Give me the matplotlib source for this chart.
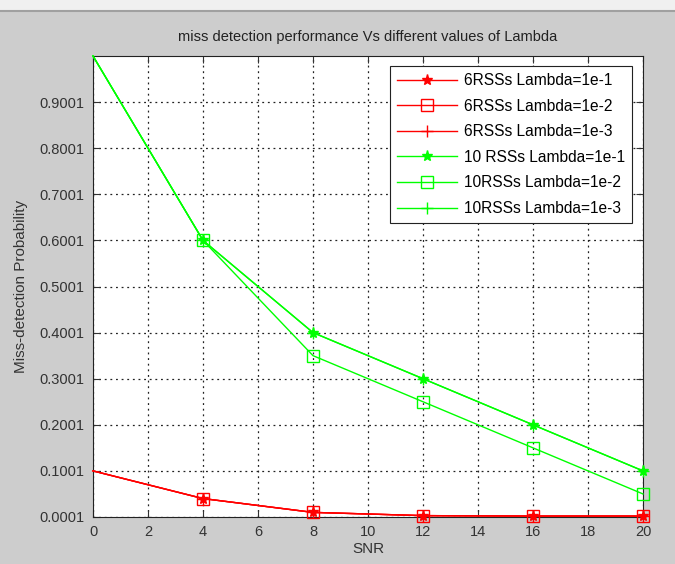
import matplotlib
matplotlib.use("Agg")
import matplotlib.pyplot as plt
from matplotlib.patches import Rectangle
import numpy as np

snr = [0, 4, 8, 12, 16, 20]
rss6_l1 = [0.1001, 0.0401, 0.0101, 0.0031, 0.0021, 0.0021]
rss6_l2 = [0.1001, 0.0401, 0.0101, 0.0031, 0.0021, 0.0021]
rss6_l3 = [0.1001, 0.0401, 0.0101, 0.0031, 0.0021, 0.0021]
rss10_l1 = [1.0001, 0.6001, 0.4001, 0.3001, 0.2001, 0.1001]
rss10_l2 = [1.0001, 0.6001, 0.3501, 0.2501, 0.1501, 0.0501]
rss10_l3 = [1.0001, 0.6001, 0.4001, 0.3001, 0.2001, 0.1001]
labels = ["6RSSs Lambda=1e-1", "6RSSs Lambda=1e-2", "6RSSs Lambda=1e-3",
          "10 RSSs Lambda=1e-1", "10RSSs Lambda=1e-2", "10RSSs Lambda=1e-3"]
xticks = list(range(0, 21, 2))
yticks = [0.0001, 0.1001, 0.2001, 0.3001, 0.4001, 0.5001, 0.6001, 0.7001, 0.8001, 0.9001]
ytick_labels = ["0.0001", "0.1001", "0.2001", "0.3001", "0.4001", "0.5001",
                "0.6001", "0.7001", "0.8001", "0.9001"]

plt.rcParams['font.family'] = ['Liberation Sans', 'DejaVu Sans']

fig = plt.figure(figsize=(6.75, 5.64), dpi=100, facecolor='#cdcdcd')
# top window strip
fig.patches.append(Rectangle((0, 1-10/564), 1, 10/564, transform=fig.transFigure,
                             facecolor='#f0f0f0', edgecolor='none', zorder=0))
fig.lines.append(plt.Line2D([0, 1], [1-11/564, 1-11/564], transform=fig.transFigure,
                            color='#a0a0a0', linewidth=1.5))

ax = fig.add_axes([93/675, 1-517/564, (643-93)/675, (517-56)/564])
ax.set_facecolor('white')

red = '#ff0000'
green = '#00ff00'
series = [
    (rss6_l1, red, '*'),
    (rss6_l2, red, 's'),
    (rss6_l3, red, '+'),
    (rss10_l1, green, '*'),
    (rss10_l2, green, 's'),
    (rss10_l3, green, '+'),
]
for (vals, col, mk), lab in zip(series, labels):
    ax.plot(snr, vals, color=col, marker=mk, markersize=8,
            markerfacecolor='none' if mk == 's' else col, markeredgewidth=1.0,
            markevery=slice(1, None),
            linewidth=1.0, label=lab, clip_on=False, zorder=3)

ax.set_xlim(0, 20)
ax.set_ylim(0.0001, 1.0001)
ax.set_xticks(xticks)
ax.set_yticks(yticks)
ax.set_yticklabels(ytick_labels)
ax.grid(True, color='#222222', linestyle=(0, (1.5, 3)), linewidth=0.9)
ax.tick_params(direction='in', length=5, labelsize=10.5, colors='#333333',
               top=True, right=True, pad=6)
for s in ax.spines.values():
    s.set_color('#222222')
    s.set_linewidth(0.8)

ax.set_xlabel('SNR', fontsize=11, labelpad=2, color='#333333')
ax.set_ylabel('Miss-detection Probability', fontsize=11, labelpad=8, color='#333333')
ax.set_title('miss detection performance Vs different values of Lambda', fontsize=10.5,
             pad=11, color='#222222')

leg = ax.legend(loc='upper right', fontsize=11.2, frameon=True, fancybox=False,
                edgecolor='#222222', framealpha=1, handlelength=3.8,
                borderaxespad=0.5, labelspacing=0.68, handletextpad=0.5,
                borderpad=0.45, bbox_to_anchor=(0.995, 0.995))
leg.get_frame().set_linewidth(0.8)

fig.savefig('out.png', dpi=100, facecolor=fig.get_facecolor())
